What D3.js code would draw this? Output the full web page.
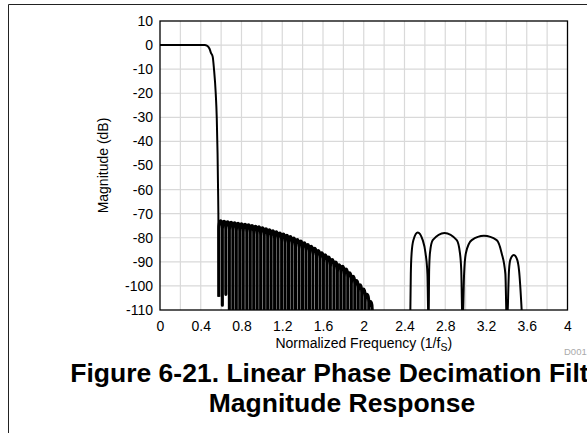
<!DOCTYPE html>
<html>
<head>
<meta charset="utf-8">
<script src="https://cdn.jsdelivr.net/npm/d3@7"></script>
<style>
  body { margin: 0; background: #fff; }
  text { font-family: "Liberation Sans", Arial, sans-serif; }
</style>
</head>
<body>
<div id="plot"></div>
<script>
// tick labels
var xTicks = [0, 0.4, 0.8, 1.2, 1.6, 2, 2.4, 2.8, 3.2, 3.6, 4]
var xGrid = [0.2, 0.4, 0.6, 0.8, 1, 1.2, 1.4, 1.6, 1.8, 2, 2.2, 2.4, 2.6, 2.8, 3, 3.2, 3.4, 3.6, 3.8]
var yTicks = [10, 0, -10, -20, -30, -40, -50, -60, -70, -80, -90, -100, -110]

// passband + transition band [freq, dB]
var passband = [[0, 0], [0.1, 0], [0.2, 0], [0.3, 0], [0.4, 0], [0.44, 0], [0.46, -0.2],
  [0.475, -0.7], [0.485, -1.4], [0.5, -3.2], [0.517, -4.8], [0.53, -10], [0.547, -20],
  [0.557, -30], [0.565, -45], [0.57, -60], [0.573, -70], [0.577, -104.5]]

// stopband ripple: null frequencies, null depth (first few), lobe peak levels
var rippleNulls = [0.577, 0.612, 0.646, 0.681, 0.715, 0.749, 0.783, 0.817, 0.852, 0.886,
  0.920, 0.954, 0.988, 1.023, 1.057, 1.091, 1.125, 1.159, 1.194, 1.228,
  1.262, 1.296, 1.330, 1.365, 1.399, 1.433, 1.467, 1.501, 1.536, 1.570,
  1.604, 1.638, 1.672, 1.707, 1.741, 1.775, 1.809, 1.843, 1.878, 1.912,
  1.946, 1.980, 2.014, 2.049, 2.083]
var rippleNullDb = [-104.5, -108, -103.5]
var ripplePeakDb = [-73, -73.2, -73.4, -73.6, -73.8, -74, -74.2, -74.4, -74.6, -74.9,
  -75.2, -75.5, -75.9, -76.3, -76.7, -77.1, -77.5, -78, -78.5, -79,
  -79.5, -80.1, -80.7, -81.4, -82.1, -82.8, -83.6, -84.4, -85.3, -86.2,
  -87.1, -88, -89, -90.1, -91.2, -91.8, -93, -94.5, -96, -97.8,
  -99.5, -101.3, -103.5, -106.5]

// the four lobes past 2.4 [freq, dB]
var highLobes = [[2.455, -118], [2.462, -95], [2.47, -86.3], [2.487, -81], [2.53, -77.8],
  [2.579, -81], [2.606, -86.3], [2.625, -95], [2.636, -118],
  [2.642, -93.4], [2.65, -86.3], [2.677, -81], [2.793, -78], [2.913, -81], [2.944, -86.3],
  [2.957, -93.4], [2.97, -118],
  [2.985, -95], [3.003, -86.3], [3.06, -81], [3.18, -79.2], [3.305, -81], [3.353, -86.3],
  [3.39, -95], [3.405, -118],
  [3.426, -93.4], [3.44, -89], [3.473, -87.2], [3.505, -89], [3.524, -93.4], [3.56, -118]]

var svgWidth = 587
var svgHeight = 433
var margin = { top: 21, right: 19.5, bottom: 123, left: 160 }
var width = svgWidth - margin.left - margin.right
var height = svgHeight - margin.top - margin.bottom

var svg = d3.select("#plot")
  .append("svg")
  .attr("width", svgWidth)
  .attr("height", svgHeight)

// outer frame (left + top only)
svg.append("path")
  .attr("d", "M8.5,433 L8.5,4.5 L587,4.5")
  .attr("fill", "none")
  .attr("stroke", "#222")
  .attr("stroke-width", 1)

var chartGroup = svg.append("g")
  .attr("transform", `translate(${margin.left}, ${margin.top})`)

var x = d3.scaleLinear().domain([0, 4]).range([0, width])
var y = d3.scaleLinear().domain([-110, 10]).range([height, 0])

// grid
chartGroup.append("g")
  .selectAll("line")
  .data(xGrid)
  .enter()
  .append("line")
  .attr("x1", d => x(d)).attr("x2", d => x(d))
  .attr("y1", 0).attr("y2", height)
  .attr("stroke", "#d9d9d9")
  .attr("stroke-width", 1.2)

chartGroup.append("g")
  .selectAll("line")
  .data(yTicks.slice(1, -1))
  .enter()
  .append("line")
  .attr("x1", 0).attr("x2", width)
  .attr("y1", d => y(d)).attr("y2", d => y(d))
  .attr("stroke", "#d9d9d9")
  .attr("stroke-width", 1.2)

// axes (labels only)
var leftAxis = d3.axisLeft(y).tickValues(yTicks).tickSize(0).tickPadding(7)
  .tickFormat(d => String(d))
var bottomAxis = d3.axisBottom(x).tickValues(xTicks).tickSize(0).tickPadding(11)
  .tickFormat(d => String(d))

var gl = chartGroup.append("g").call(leftAxis)
var gb = chartGroup.append("g").attr("transform", `translate(0, ${height})`).call(bottomAxis)
;[gl, gb].forEach(g => {
  g.select(".domain").remove()
  g.selectAll("text")
    .attr("fill", "#000")
    .style("font-size", "14px")
    .style("font-family", '"Liberation Sans", Arial, sans-serif')
})

// clip
svg.append("clipPath").attr("id", "clip")
  .append("rect").attr("width", width).attr("height", height)

var plot = chartGroup.append("g").attr("clip-path", "url(#clip)")

var line = d3.line()
  .x(d => x(d[0]))
  .y(d => y(d[1]))
  .curve(d3.curveMonotoneX)

plot.append("path")
  .attr("d", line(passband))
  .attr("fill", "none")
  .attr("stroke", "#000")
  .attr("stroke-width", 2)

// ripple: one arch per lobe between successive nulls
function nullDb(i) {
  return rippleNullDb[i] !== undefined ? rippleNullDb[i] : -125
}
var arch = 8
var rp = `M${x(rippleNulls[0])},${y(nullDb(0))}`
ripplePeakDb.forEach((p, i) => {
  var xl = x(rippleNulls[i])
  var xr = x(rippleNulls[i + 1])
  var yt = y(p)
  rp += `L${xl},${yt + arch}A${(xr - xl) / 2},${arch} 0 0 1 ${xr},${yt + arch}L${xr},${y(nullDb(i + 1))}`
})
plot.append("path")
  .attr("d", rp)
  .attr("fill", "none")
  .attr("stroke", "#000")
  .attr("stroke-width", 3.1)
  .attr("stroke-linejoin", "round")

plot.append("path")
  .attr("d", line(highLobes))
  .attr("fill", "none")
  .attr("stroke", "#000")
  .attr("stroke-width", 2)

// plot border
chartGroup.append("rect")
  .attr("width", width)
  .attr("height", height)
  .attr("fill", "none")
  .attr("stroke", "#000")
  .attr("stroke-width", 1.3)

// axis titles
chartGroup.append("text")
  .attr("transform", "rotate(-90)")
  .attr("x", -height / 2)
  .attr("y", 103.5 - margin.left)
  .attr("dy", "0.35em")
  .attr("text-anchor", "middle")
  .style("font-size", "14px")
  .text("Magnitude (dB)")

var xTitle = chartGroup.append("text")
  .attr("x", width / 2)
  .attr("y", 348 - margin.top)
  .attr("text-anchor", "middle")
  .style("font-size", "14px")
xTitle.append("tspan").text("Normalized Frequency (1/f")
xTitle.append("tspan").attr("dy", 3).style("font-size", "10.5px").text("S")
xTitle.append("tspan").attr("dy", -3).text(")")

svg.append("text")
  .attr("x", 564)
  .attr("y", 355)
  .attr("fill", "#aaa")
  .style("font-size", "9.5px")
  .text("D001")

// caption (cropped at the right edge, as in the source figure)
svg.append("text")
  .attr("x", 342)
  .attr("y", 382)
  .attr("text-anchor", "middle")
  .style("font-size", "26.5px")
  .style("font-weight", "bold")
  .text("Figure 6-21. Linear Phase Decimation Filter")

svg.append("text")
  .attr("x", 342)
  .attr("y", 412)
  .attr("text-anchor", "middle")
  .style("font-size", "26.5px")
  .style("font-weight", "bold")
  .text("Magnitude Response")
</script>
</body>
</html>
